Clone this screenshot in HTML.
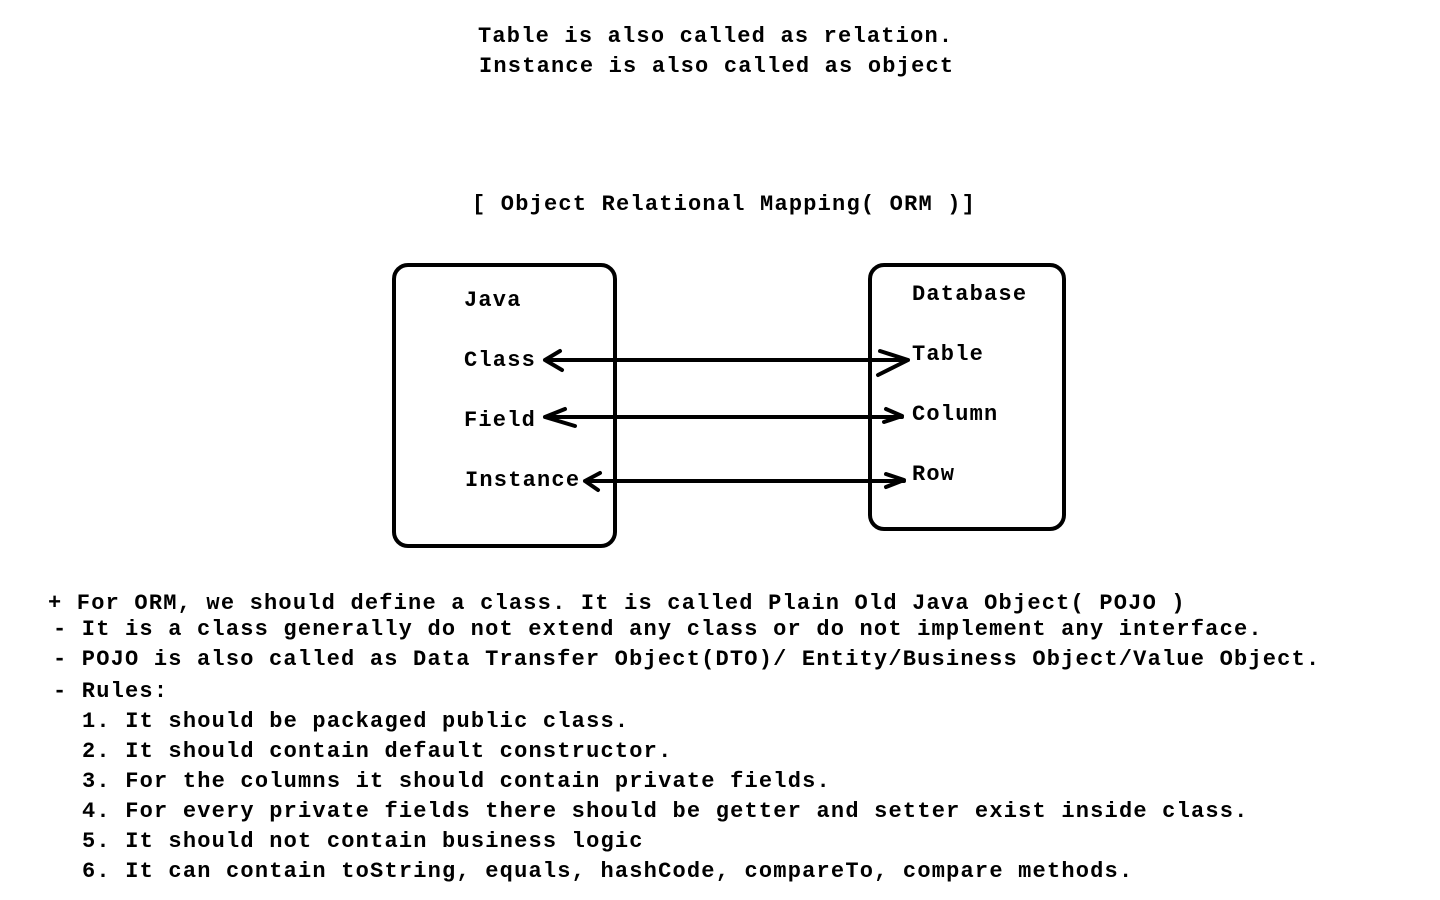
<!DOCTYPE html>
<html><head><meta charset="utf-8"><style>
html,body{margin:0;padding:0;background:#fff;width:1440px;height:900px;overflow:hidden}
.t{position:absolute;font-family:"Liberation Mono","Courier New",monospace;font-weight:bold;font-size:22px;letter-spacing:1.2px;line-height:22px;color:#000;white-space:pre}
svg{position:absolute;left:0;top:0}
</style></head><body>
<svg width="1440" height="900" fill="none" stroke="#000" stroke-width="4" stroke-linecap="round" stroke-linejoin="round">
<rect x="394" y="265" width="221" height="281" rx="14"/>
<rect x="870" y="265" width="194" height="264" rx="14"/>
<path d="M545 360 H908 M560 351 L545 360 L562 370 M880 351 L908 360 L878 375"/>
<path d="M545 417 H902 M565 409 L545 417 L575 426 M886 409 L902 416 L884 422"/>
<path d="M585 481 H904 M600 473 L585 481 L598 490 M886 474 L904 480 L886 487"/>
</svg>
<div class="t" style="left:478px;top:26px">Table is also called as relation.</div>
<div class="t" style="left:479px;top:56px">Instance is also called as object</div>
<div class="t" style="left:472px;top:194px">[ Object Relational Mapping( ORM )]</div>
<div class="t" style="left:464px;top:290px">Java</div>
<div class="t" style="left:464px;top:350px">Class</div>
<div class="t" style="left:464px;top:410px">Field</div>
<div class="t" style="left:465px;top:470px">Instance</div>
<div class="t" style="left:912px;top:284px">Database</div>
<div class="t" style="left:912px;top:344px">Table</div>
<div class="t" style="left:912px;top:404px">Column</div>
<div class="t" style="left:912px;top:464px">Row</div>
<div class="t" style="left:48px;top:593px">+ For ORM, we should define a class. It is called Plain Old Java Object( POJO )</div>
<div class="t" style="left:53px;top:619px">- It is a class generally do not extend any class or do not implement any interface.</div>
<div class="t" style="left:53px;top:649px">- POJO is also called as Data Transfer Object(DTO)/ Entity/Business Object/Value Object.</div>
<div class="t" style="left:53px;top:681px">- Rules:</div>
<div class="t" style="left:82px;top:711px">1. It should be packaged public class.</div>
<div class="t" style="left:82px;top:741px">2. It should contain default constructor.</div>
<div class="t" style="left:82px;top:771px">3. For the columns it should contain private fields.</div>
<div class="t" style="left:82px;top:801px">4. For every private fields there should be getter and setter exist inside class.</div>
<div class="t" style="left:82px;top:831px">5. It should not contain business logic</div>
<div class="t" style="left:82px;top:861px">6. It can contain toString, equals, hashCode, compareTo, compare methods.</div>
</body></html>
